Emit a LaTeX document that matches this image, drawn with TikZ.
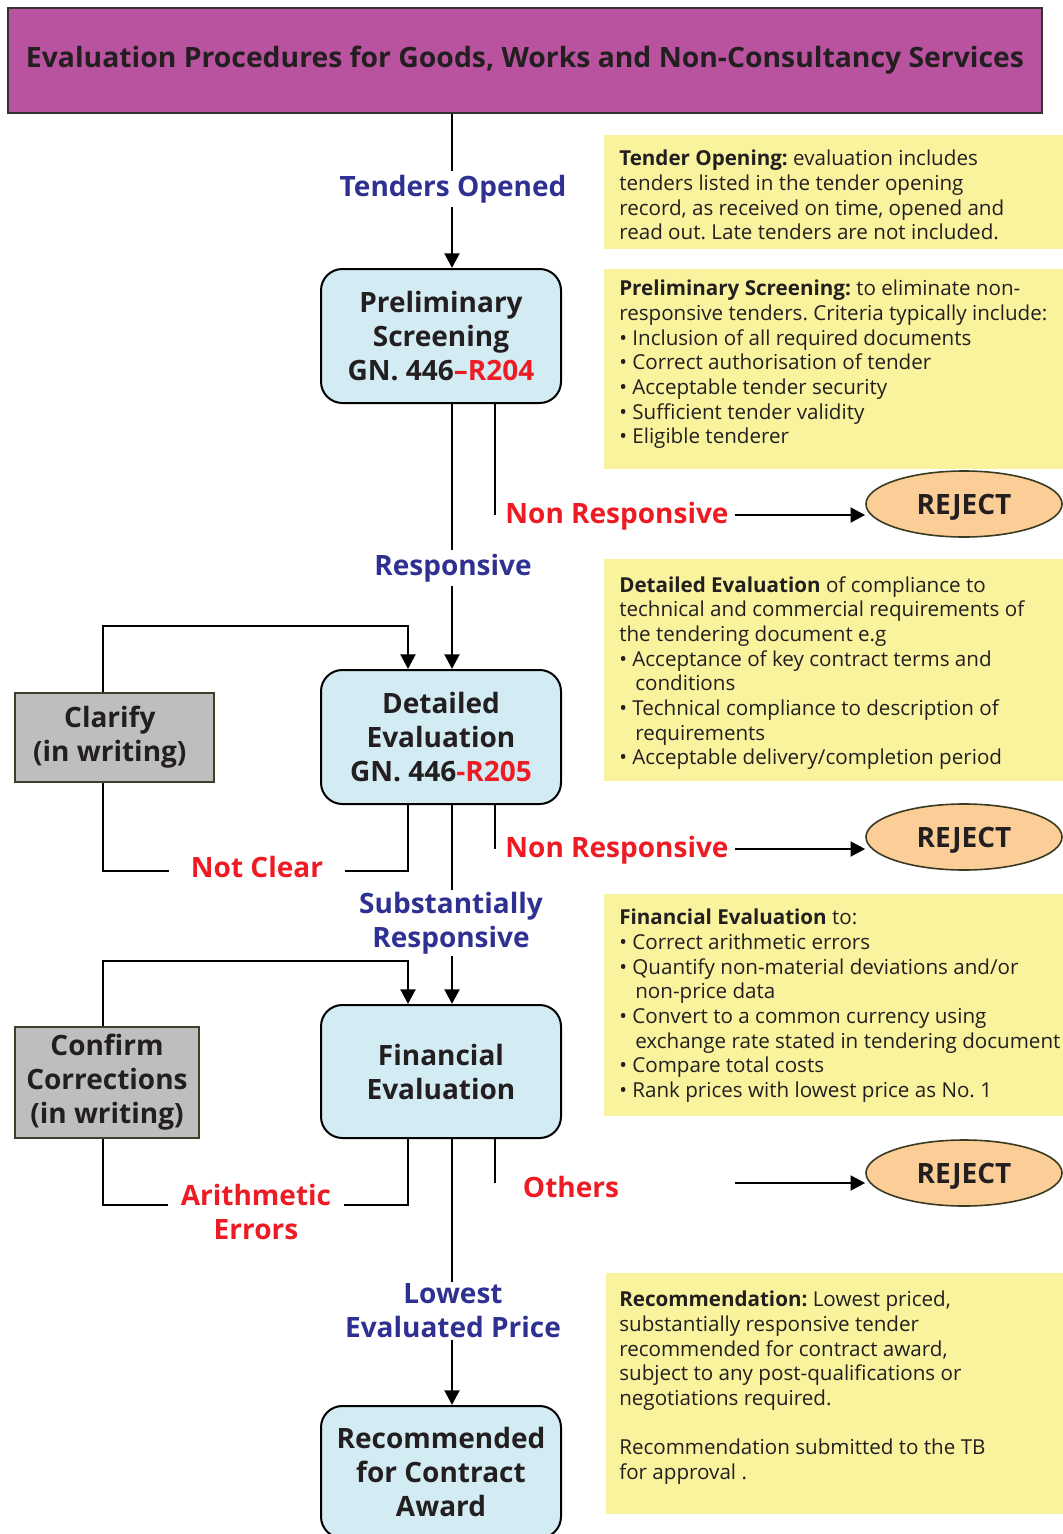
\documentclass[tikz,border=0pt]{standalone}
\usepackage{fontspec}
\setmainfont{Open Sans}
\usetikzlibrary{arrows.meta,shapes.geometric}

\definecolor{titlefill}{HTML}{B9529F}
\definecolor{titleline}{HTML}{333333}
\definecolor{stepfill}{HTML}{D3ECF3}
\definecolor{notefill}{HTML}{F8F39C}
\definecolor{sidefill}{HTML}{BEBEBE}
\definecolor{sideline}{HTML}{403F2B}
\definecolor{rejfill}{HTML}{FBCE98}
\definecolor{rejline}{HTML}{3A3A20}
\definecolor{lblblue}{HTML}{2E3192}
\definecolor{lblred}{HTML}{ED1C24}
\definecolor{ink}{HTML}{231F20}

\frenchspacing
\newcommand{\bigbold}{\bfseries\fontsize{21}{25.5}\selectfont}
\newcommand{\notefont}{\fontsize{15.45}{18.5}\selectfont}
\newcommand{\ind}{\hspace*{12pt}}
\newcommand{\bul}{\textbullet\ }
\newcommand{\rejtext}{\raisebox{-7.5pt}[0pt][0pt]{REJECT}}

\begin{document}
\begin{tikzpicture}[x=0.75pt,y=-0.75pt,
  conn/.style={line width=2.2pt, draw=black},
  arr/.style={conn, -{Triangle[length=11pt,width=11pt]}},
  stepbox/.style={draw=black, line width=1.5pt, rounded corners=16pt, fill=stepfill,
    minimum width=180pt, minimum height=100.5pt, align=center, inner sep=0pt,
    text=ink, font=\bigbold},
  sidebox/.style={draw=sideline, line width=1.5pt, fill=sidefill, align=center,
    inner sep=0pt, text=ink, font=\bigbold},
  rejbox/.style={ellipse, draw=rejline, line width=1.2pt, fill=rejfill,
    minimum width=147pt, minimum height=49.5pt, inner sep=0pt, text=ink, font=\bigbold},
  flowlbl/.style={fill=white, align=center, inner sep=3pt, text=lblblue, font=\bigbold},
  branchlbl/.style={align=center, inner sep=4.5pt, text=lblred, font=\bigbold},
  notebox/.style={fill=notefill, inner sep=0pt, anchor=north west},
  notetext/.style={align=left, inner sep=0pt, anchor=north west, text=ink, font=\notefont}]

\useasboundingbox (0,0) rectangle (1063,1534);
\clip (0,0) rectangle (1063,1534);
\fill[white] (0,0) rectangle (1063,1534);

% title banner
\node[draw=titleline, line width=1.8pt, fill=titlefill, minimum width=775.5pt,
  minimum height=78.75pt, inner sep=0pt, text=ink] (title) at (525,60.5)
  {\raisebox{3pt}{\resizebox{748.5pt}{\height}{\bfseries\fontsize{21}{25}\selectfont
  Evaluation Procedures for Goods, Works and Non-Consultancy Services}}};

% explanatory notes
\node[notebox, minimum width=344.25pt, minimum height=85.5pt] (note1) at (604,135) {};
\node[notetext] (note1t) at (619,150) {\textbf{Tender Opening:} evaluation includes\\
tenders listed in the tender opening\\
record, as received on time, opened and\\
read out. Late tenders are not included.};

\node[notebox, minimum width=344.25pt, minimum height=150pt] (note2) at (604,269) {};
\node[notetext] (note2t) at (619,280) {\textbf{Preliminary Screening:} to eliminate non-\\
responsive tenders. Criteria typically include:\\
\bul Inclusion of all required documents\\
\bul Correct authorisation of tender\\
\bul Acceptable tender security\\
\bul Sufficient tender validity\\
\bul Eligible tenderer};

\node[notebox, minimum width=344.25pt, minimum height=166.5pt] (note3) at (604,559) {};
\node[notetext] (note3t) at (619,576) {\textbf{Detailed Evaluation} of compliance to\\
technical and commercial requirements of\\
the tendering document e.g\\
\bul Acceptance of key contract terms and\\
\ind conditions\\
\bul Technical compliance to description of\\
\ind requirements\\
\bul Acceptable delivery/completion period};

\node[notebox, minimum width=344.25pt, minimum height=166.5pt] (note4) at (604,894) {};
\node[notetext] (note4t) at (619,909) {\textbf{Financial Evaluation} to:\\
\bul Correct arithmetic errors\\
\bul Quantify non-material deviations and/or\\
\ind non-price data\\
\bul Convert to a common currency using\\
\ind exchange rate stated in tendering document\\
\bul Compare total costs\\
\bul Rank prices with lowest price as No. 1};

\node[notebox, minimum width=342.75pt, minimum height=180.75pt] (note5) at (606,1273) {};
\node[notetext] (note5t) at (619,1291) {\textbf{Recommendation:} Lowest priced,\\
substantially responsive tender\\
recommended for contract award,\\
subject to any post-qualifications or\\
negotiations required.\\[18.5pt]
Recommendation submitted to the TB\\
for approval .};

% process steps
\node[stepbox] (prelim) at (441,336) {Preliminary\\Screening\\GN. 446\textcolor{lblred}{–R204}};
\node[stepbox] (det) at (441,737) {Detailed\\Evaluation\\GN. 446\textcolor{lblred}{-R205}};
\node[stepbox, minimum height=99.75pt] (fin) at (441,1071.5) {Financial\\Evaluation};
\node[stepbox, minimum height=99pt] (rec) at (441,1472) {Recommended\\for Contract\\Award};

% side loops
\node[sidebox, minimum width=149.25pt, minimum height=66.75pt] (clar) at (114.5,737.5)
  {\hspace*{-7pt}Clarify\\\hspace*{-7pt}(in writing)};
\node[sidebox, minimum width=138pt, minimum height=83.25pt] (conf) at (107,1082.5) {Confirm\\Corrections\\(in writing)};

% rejections
\node[rejbox] (rej1) at (964,504) {\rejtext};
\node[rejbox] (rej2) at (964,837) {\rejtext};
\node[rejbox] (rej3) at (964,1173) {\rejtext};

% helper columns
\coordinate (m) at (452,0);
\coordinate (lx) at (408,0);

% main flow labels
\node[flowlbl] (topen) at (453,189) {Tenders Opened};
\node[flowlbl] (resp) at (453,568) {Responsive};
\node[flowlbl, inner sep=1pt] (subresp) at (451,923) {Substantially\\Responsive};
\node[flowlbl, inner sep=1pt] (lowest) at (453,1311) {Lowest\\Evaluated Price};

% branch labels
\node[branchlbl] (nr1) at (617,516) {Non Responsive};
\node[branchlbl] (nr2) at (617,850) {Non Responsive};
\node[branchlbl] (oth) at (571,1187) {Others};
\node[branchlbl, minimum width=132pt, inner sep=0pt] (nc) at (257,867) {Not Clear};
\node[branchlbl, minimum width=132pt, inner sep=0pt] (ae) at (256,1212) {Arithmetic\\Errors};

% main line
\draw[conn] (title.south -| m) -- (topen.north -| m);
\draw[arr] (topen.south -| m) -- (prelim.north -| m);
\draw[conn] (prelim.south -| m) -- (resp.north -| m);
\draw[arr] (resp.south -| m) -- (det.north -| m);
\draw[conn] (det.south -| m) -- (subresp.north -| m);
\draw[arr] (subresp.south -| m) -- (fin.north -| m);
\draw[conn] (fin.south -| m) -- (lowest.north -| m);
\draw[arr] (lowest.south -| m) -- (rec.north -| m);

% rejection branches
\coordinate (s1) at (495,515);
\coordinate (s2) at (495,849);
\coordinate (s3) at (495,1183);
\draw[conn] (prelim.south -| s1) -- (s1);
\draw[arr] (nr1.east |- s1) -- (s1 -| rej1.west);
\draw[conn] (det.south -| s2) -- (s2);
\draw[arr] (nr2.east |- s2) -- (s2 -| rej2.west);
\coordinate (ostart) at (735,1183);
\draw[conn] (fin.south -| s3) -- (s3);
\draw[arr] (ostart) -- (ostart -| rej3.west);

% clarification loop
\coordinate (t1) at (103,626);
\coordinate (u1) at (103,871);
\draw[arr] (clar.north -| t1) -- (t1) -| (det.north -| lx);
\draw[conn] (det.south -| lx) |- (nc.east |- u1);
\draw[conn] (nc.west |- u1) -- (u1) -- (clar.south -| u1);

% correction loop
\coordinate (t2) at (103,961);
\coordinate (u2) at (103,1205);
\draw[arr] (conf.north -| t2) -- (t2) -| (fin.north -| lx);
\draw[conn] (fin.south -| lx) |- (ae.east |- u2);
\draw[conn] (ae.west |- u2) -- (u2) -- (conf.south -| u2);
\end{tikzpicture}
\end{document}
